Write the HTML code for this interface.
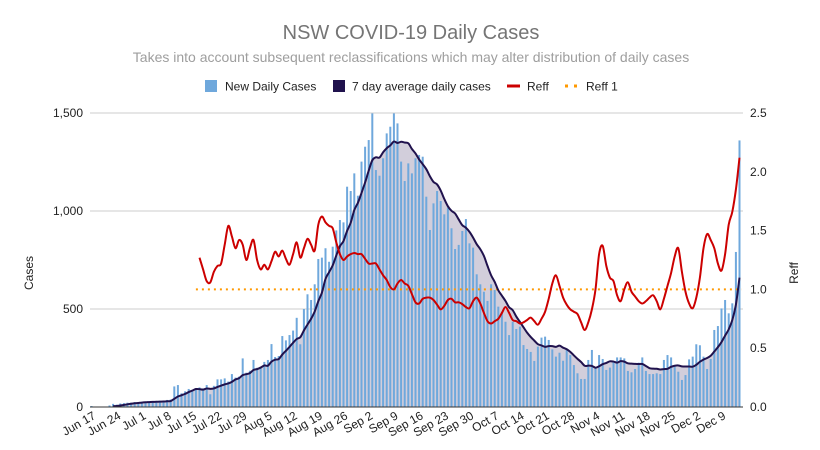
<!DOCTYPE html>
<html><head><meta charset="utf-8">
<style>
html,body{margin:0;padding:0;background:#fff;}
svg{display:block;font-family:"Liberation Sans",Arial,sans-serif;}
</style></head>
<body>
<svg id="chart" width="820" height="450" viewBox="0 0 820 450" xmlns="http://www.w3.org/2000/svg">
  <rect x="0" y="0" width="820" height="450" fill="#fff"/>
  <text x="411" y="39" text-anchor="middle" font-size="20" fill="#757575">NSW COVID-19 Daily Cases</text>
  <text x="411" y="62" text-anchor="middle" font-size="14" fill="#9e9e9e">Takes into account subsequent reclassifications which may alter distribution of daily cases</text>
  <g font-size="12" fill="#222">
    <g>
      <rect x="205" y="80" width="12" height="12" fill="#6fa8dc"/>
      <text x="225" y="90.5">New Daily Cases</text>
    </g>
    <g>
      <rect x="333" y="80" width="12" height="12" fill="#20124d"/>
      <text x="352" y="90.5">7 day average daily cases</text>
    </g>
    <g>
      <rect x="507" y="84.5" width="13" height="3" fill="#cc0000"/>
      <text x="527" y="90.5">Reff</text>
    </g>
    <g>
      <rect x="565" y="84.5" width="3" height="3" fill="#ff9900"/>
      <rect x="574" y="84.5" width="3" height="3" fill="#ff9900"/>
      <text x="586" y="90.5">Reff 1</text>
    </g>
  </g>
  <text transform="translate(33,273) rotate(-90)" text-anchor="middle" font-size="12" fill="#222">Cases</text>
  <text transform="translate(798,273) rotate(-90)" text-anchor="middle" font-size="12" fill="#222">Reff</text>
  <g id="grid"></g>
  <g id="area"></g>
  <g id="bars"></g>
  <g id="lines"></g>
  <g id="axes"></g>
</svg>
<script>
const cases = [
5,0,0,0,0,8,16,12,18,20,
22,22,25,24,27,28,27,30,25,30,
28,36,38,105,112,70,80,92,88,95,
100,95,112,65,108,141,141,146,130,168,
150,155,248,175,185,240,200,205,230,240,
321,255,260,362,340,367,390,455,320,500,
575,546,626,755,762,810,741,818,901,954,
942,1124,1102,1192,1078,1252,1328,1362,1498,1209,
1180,1269,1396,1430,1498,1447,1252,1153,1243,1192,
1269,1286,1277,1073,903,1039,1102,1051,983,1017,
912,806,827,898,959,835,813,677,626,588,
541,626,597,512,486,435,367,435,398,410,
316,296,281,235,308,354,359,342,294,257,
277,236,299,265,214,172,143,143,240,291,
201,265,245,189,201,231,253,253,248,184,
177,194,226,253,184,168,168,172,168,240,
265,253,206,180,138,163,243,257,320,315,
257,194,245,393,413,503,546,478,529,791,1360];
const reffStart = 30;
const reff = [
1.27,1.17,1.07,1.06,1.15,1.20,1.22,1.38,1.54,1.45,
1.35,1.42,1.38,1.25,1.35,1.42,1.25,1.17,1.21,1.17,
1.24,1.32,1.28,1.33,1.26,1.21,1.30,1.40,1.27,1.35,
1.43,1.38,1.33,1.55,1.62,1.57,1.54,1.52,1.40,1.30,
1.25,1.28,1.30,1.31,1.30,1.30,1.26,1.22,1.22,1.22,
1.17,1.12,1.08,1.02,1.00,1.05,1.08,1.05,1.03,0.96,
0.89,0.88,0.92,0.93,0.93,0.91,0.87,0.83,0.86,0.91,
0.92,0.89,0.89,0.875,0.85,0.84,0.90,0.93,0.88,0.80,
0.73,0.71,0.73,0.75,0.80,0.85,0.80,0.74,0.73,0.71,
0.72,0.74,0.76,0.73,0.70,0.75,0.81,0.92,1.05,1.12,
1.03,0.93,0.87,0.83,0.81,0.79,0.72,0.655,0.72,0.83,
1.00,1.30,1.37,1.20,1.10,1.07,0.95,0.90,1.00,1.06,
0.98,0.94,0.90,0.88,0.90,0.93,0.95,0.90,0.83,0.92,
1.03,1.14,1.28,1.35,1.15,0.98,0.88,0.84,0.93,1.10,
1.35,1.47,1.42,1.35,1.22,1.16,1.30,1.55,1.66,1.85,2.12];
const reffOne = 1.0;
const reffOneStart = 29;
const xTickLabels = ["Jun 17","Jun 24","Jul 1","Jul 8","Jul 15","Jul 22","Jul 29","Aug 5","Aug 12","Aug 19","Aug 26","Sep 2","Sep 9","Sep 16","Sep 23","Sep 30","Oct 7","Oct 14","Oct 21","Oct 28","Nov 4","Nov 11","Nov 18","Nov 25","Dec 2","Dec 9"];
const leftTicks = [0,500,1000,1500];
const leftTickLabels = ["0","500","1,000","1,500"];
const rightTicks = [0,0.5,1.0,1.5,2.0,2.5];
const rightTickLabels = ["0.0","0.5","1.0","1.5","2.0","2.5"];

const NS = "http://www.w3.org/2000/svg";
const X0 = 91.5, DX = 3.6, Y0 = 407, YTOP = 113, PL = 90, PR = 743;
const x = i => X0 + i * DX;
const yL = v => Y0 - v / 1500 * (Y0 - YTOP);
const yR = v => Y0 - v / 2.5 * (Y0 - YTOP);
function mk(tag, attrs, parent) {
  const e = document.createElementNS(NS, tag);
  for (const k in attrs) e.setAttribute(k, attrs[k]);
  parent.appendChild(e);
  return e;
}
function smooth(pts) {
  let d = "M" + pts[0][0].toFixed(2) + "," + pts[0][1].toFixed(2);
  for (let i = 0; i < pts.length - 1; i++) {
    const p0 = pts[i - 1] || pts[i], p1 = pts[i], p2 = pts[i + 1], p3 = pts[i + 2] || p2;
    const c1x = p1[0] + (p2[0] - p0[0]) / 6, c1y = p1[1] + (p2[1] - p0[1]) / 6;
    const c2x = p2[0] - (p3[0] - p1[0]) / 6, c2y = p2[1] - (p3[1] - p1[1]) / 6;
    d += "C" + c1x.toFixed(2) + "," + c1y.toFixed(2) + " " + c2x.toFixed(2) + "," + c2y.toFixed(2) + " " + p2[0].toFixed(2) + "," + p2[1].toFixed(2);
  }
  return d;
}
const grid = document.getElementById("grid");
leftTicks.forEach((v, k) => {
  if (v > 0) {
    const g = mk("line", {x1: PL, x2: PR, y1: yL(v), y2: yL(v), stroke: "#cccccc", "stroke-width": 1}, grid);
    
    
  }
  const t = mk("text", {x: 83, y: yL(v) + 4, "text-anchor": "end", "font-size": 12, fill: "#222"}, grid);
  t.textContent = leftTickLabels[k];
  
  
});
rightTicks.forEach((v, k) => {
  const t = mk("text", {x: 750, y: yR(v) + 4, "font-size": 12, fill: "#222"}, grid);
  t.textContent = rightTickLabels[k];
  
  
});
// 7 day average
const avgPts = [];
for (let i = 6; i < cases.length; i++) {
  let s = 0;
  for (let j = i - 6; j <= i; j++) s += cases[j];
  avgPts.push([x(i), yL(s / 7)]);
}
const avgD = smooth(avgPts);
const area = mk("path", {d: avgD + "L" + avgPts[avgPts.length - 1][0] + "," + Y0 + "L" + avgPts[0][0] + "," + Y0 + "Z", fill: "#d2cedb"}, document.getElementById("area"));


const bars = document.getElementById("bars");
cases.forEach((v, i) => {
  const h = Y0 - yL(v);
  const b = mk("rect", {x: x(i) - 1, y: yL(v), width: 2, height: Math.max(h, 0), fill: "#6fa8dc"}, bars);
  
  
});
const lines = document.getElementById("lines");
const r1 = mk("line", {x1: x(reffOneStart), x2: PR - 1, y1: yR(reffOne), y2: yR(reffOne), stroke: "#ff9900", "stroke-width": 2, "stroke-dasharray": "2,4"}, lines);


const avgLine = mk("path", {d: avgD, fill: "none", stroke: "#20124d", "stroke-width": 2}, lines);


const reffPts = reff.map((v, k) => [x(reffStart + k), yR(v)]);
const reffLine = mk("path", {d: smooth(reffPts), fill: "none", stroke: "#cc0000", "stroke-width": 2}, lines);


const axes = document.getElementById("axes");
const base = mk("line", {x1: PL, x2: PR, y1: Y0, y2: Y0, stroke: "#333", "stroke-width": 1}, axes);


xTickLabels.forEach((lab, k) => {
  const i = k * 7;
  const t = mk("text", {transform: "translate(" + (x(i) + 5) + ",418) rotate(-30)", "text-anchor": "end", "font-size": 12, fill: "#222"}, axes);
  t.textContent = lab;
  
  
});
</script>
</body></html>
